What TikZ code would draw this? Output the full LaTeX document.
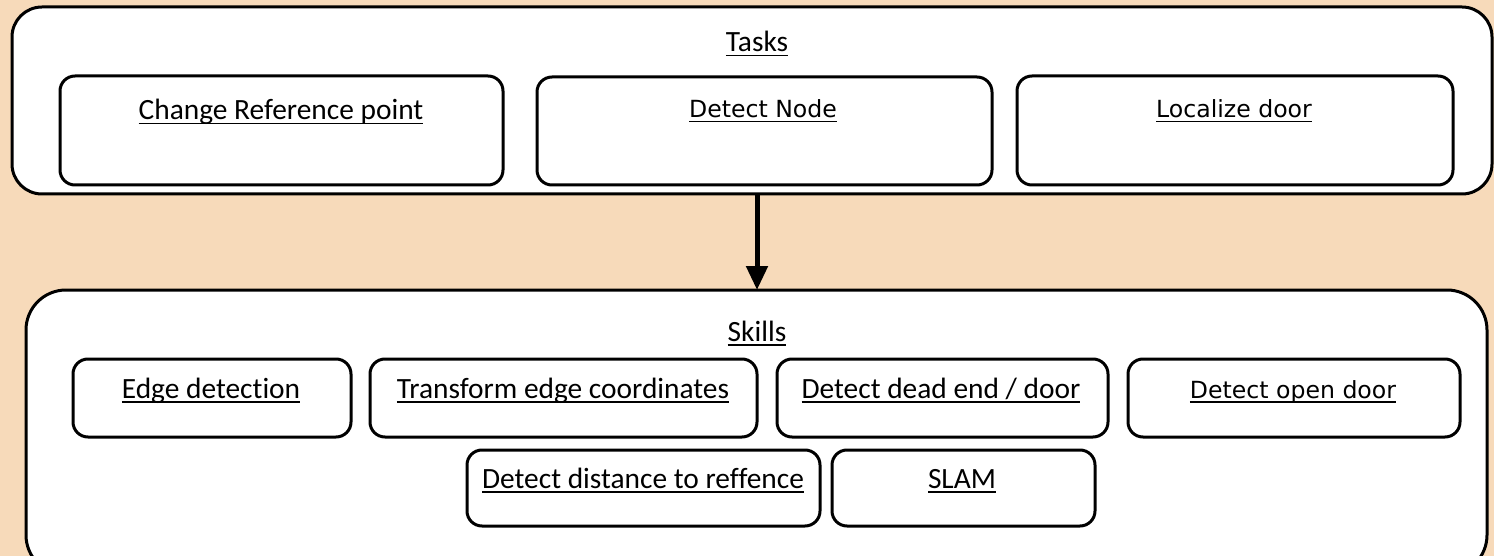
\documentclass[tikz,border=0pt]{standalone}
\usepackage{fontspec}
\setmainfont{Carlito}[Ligatures=NoCommon]
\newfontfamily\tahomalike{DejaVu Sans}
\usetikzlibrary{arrows.meta}
\definecolor{peach}{RGB}{247,218,186}
\newcommand\myul[1]{\setbox0\hbox{#1}\rlap{\rule[-4.5pt]{\wd0}{1.8pt}}\box0}
\tikzset{
  outerbox/.style={draw=black, line width=3pt, fill=white},
  innerbox/.style={draw=black, line width=3pt, fill=white, rounded corners=15pt},
  lbl/.style={anchor=base, inner sep=0pt, font=\fontsize{29.4}{33}\selectfont},
  lblt/.style={anchor=base, inner sep=0pt, font=\tahomalike\fontsize{23.6}{28}\selectfont},
  flow/.style={line width=5pt, -{Triangle[width=21pt,length=24pt]}}
}
\begin{document}
\begin{tikzpicture}[x=1pt,y=-1pt]
\useasboundingbox (0,0) rectangle (1494,556);
\fill[peach] (0,0) rectangle (1494,556);
\clip (0,0) rectangle (1494,556);
% outer boxes
\draw[outerbox, rounded corners=30pt] (12,7) rectangle (1492,194);
\draw[outerbox, rounded corners=40pt] (26,290) rectangle (1487,575);
\coordinate (tasksbot) at (757,194);
\coordinate (skillstop) at (757,290);
% titles
\node[lbl] (tasksl) at (757,52) {\myul{Tasks}};
\node[lbl] (skillsl) at (757,341) {\myul{Skills}};
% task boxes
\node[innerbox, minimum width=443pt, minimum height=109pt] (t1) at (281.5,130.5) {};
\node[innerbox, minimum width=455pt, minimum height=108pt] (t2) at (764.5,131) {};
\node[innerbox, minimum width=436pt, minimum height=109pt] (t3) at (1235,130.5) {};
\node[lbl] (t1l) at (281,120) {\myul{Change Reference point}};
\node[lblt] (t2l) at (763,118) {\myul{Detect Node}};
\node[lblt] (t3l) at (1234,118) {\myul{Localize door}};
% skill boxes row 1
\node[innerbox, minimum width=278pt, minimum height=78pt] (s1) at (212,398) {};
\node[innerbox, minimum width=387pt, minimum height=78pt] (s2) at (563.5,398) {};
\node[innerbox, minimum width=331pt, minimum height=78pt] (s3) at (942.5,398) {};
\node[innerbox, minimum width=332pt, minimum height=78pt] (s4) at (1294,398) {};
\node[lbl] (s1l) at (211,398) {\myul{Edge detection}};
\node[lbl] (s2l) at (563,398) {\myul{Transform edge coordinates}};
\node[lbl] (s3l) at (941,398) {\myul{Detect dead end / door}};
\node[lblt] (s4l) at (1293,398) {\myul{Detect open door}};
% skill boxes row 2
\node[innerbox, minimum width=353pt, minimum height=76pt] (s5) at (643.5,488) {};
\node[innerbox, minimum width=263pt, minimum height=76pt] (s6) at (963.5,488) {};
\node[lbl] (s5l) at (643,488) {\myul{Detect distance to reffence}};
\node[lbl] (s6l) at (962,488) {\myul{SLAM}};
% arrow
\draw[flow] (tasksbot) -- (skillstop);
\end{tikzpicture}
\end{document}
